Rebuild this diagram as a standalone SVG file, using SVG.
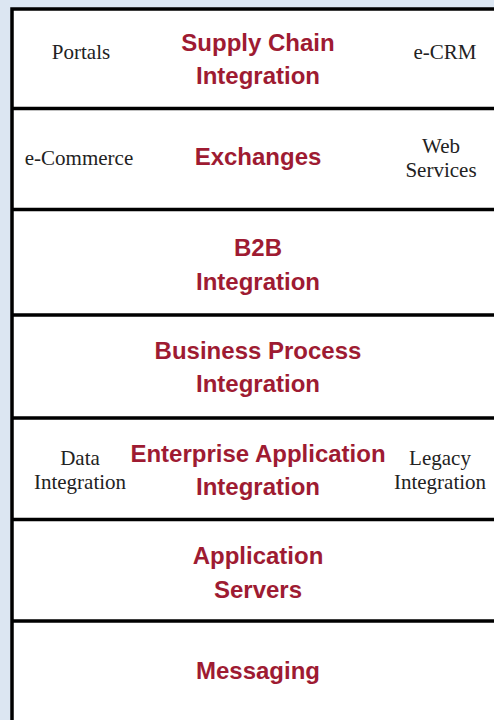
<svg xmlns="http://www.w3.org/2000/svg" width="494" height="720" viewBox="0 0 494 720">
<style>
.bg{fill:#dce6f2}
.box{fill:#ffffff}
.ln{stroke:#000;stroke-width:3.5;fill:none}
.t{font-family:"Liberation Sans",Arial,sans-serif;font-weight:bold;font-size:24px;fill:#9e1b32;text-anchor:middle}
.s{font-family:"Liberation Serif","Times New Roman",serif;font-size:21px;fill:#222;text-anchor:middle}
</style>
<rect class="bg" x="0" y="0" width="494" height="720"/>
<rect class="box" x="12" y="9" width="482" height="711"/>
<g id="connectors">
<path class="ln" d="M12,720 V9 H494"/>
<path class="ln" d="M12,108.5 H494 M12,209.5 H494 M12,315 H494 M12,418 H494 M12,519.5 H494 M12,621 H494"/>
</g>
<g id="supply-chain">
<text class="t" x="258" y="51">Supply Chain</text>
<text class="t" x="258" y="84">Integration</text>
<text class="s" x="81" y="59">Portals</text>
<text class="s" x="445" y="59">e-CRM</text>
</g>
<g id="exchanges">
<text class="t" x="258" y="165">Exchanges</text>
<text class="s" x="79" y="165">e-Commerce</text>
<text class="s" x="441" y="153">Web</text>
<text class="s" x="441" y="177">Services</text>
</g>
<g id="b2b">
<text class="t" x="258" y="256">B2B</text>
<text class="t" x="258" y="290">Integration</text>
</g>
<g id="bpi">
<text class="t" x="258" y="359">Business Process</text>
<text class="t" x="258" y="392">Integration</text>
</g>
<g id="eai">
<text class="t" x="258" y="462">Enterprise Application</text>
<text class="t" x="258" y="495">Integration</text>
<text class="s" x="80" y="465">Data</text>
<text class="s" x="80" y="489">Integration</text>
<text class="s" x="440" y="465">Legacy</text>
<text class="s" x="440" y="489">Integration</text>
</g>
<g id="app-servers">
<text class="t" x="258" y="564">Application</text>
<text class="t" x="258" y="598">Servers</text>
</g>
<g id="messaging">
<text class="t" x="258" y="679">Messaging</text>
</g>
</svg>
